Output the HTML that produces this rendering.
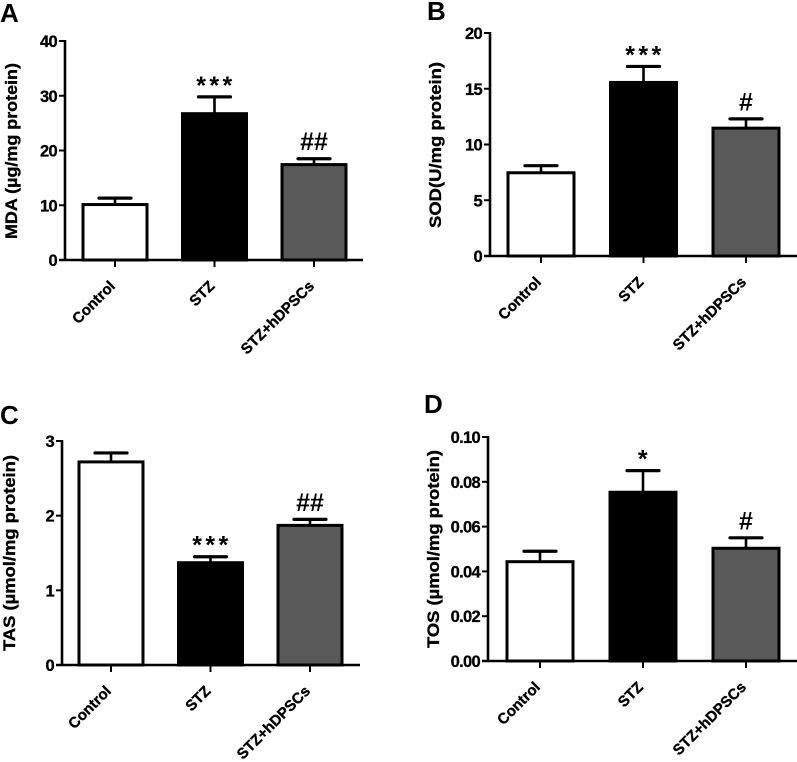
<!DOCTYPE html>
<html>
<head>
<meta charset="utf-8">
<title>Oxidative stress markers</title>
<style>
html,body{margin:0;padding:0;background:#fff;width:797px;height:762px;overflow:hidden}
svg{display:block}
text{font-family:"Liberation Sans",sans-serif;fill:#000}
</style>
</head>
<body>
<svg id="figure" xmlns="http://www.w3.org/2000/svg" width="797" height="762" viewBox="0 0 797 762"></svg>
<script>
var categories = ['Control', 'STZ', 'STZ+hDPSCs'];

var ticksA = [0, 10, 20, 30, 40];
var tickLabelsA = ['0', '10', '20', '30', '40'];
var valuesA = [10.4, 27, 17.7];
var errorsA = [0.9, 2.8, 0.8];
var notesA = ['', '***', '##'];

var ticksB = [0, 5, 10, 15, 20];
var tickLabelsB = ['0', '5', '10', '15', '20'];
var valuesB = [7.6, 15.7, 11.6];
var errorsB = [0.5, 1.3, 0.7];
var notesB = ['', '***', '#'];

var ticksC = [0, 1, 2, 3];
var tickLabelsC = ['0', '1', '2', '3'];
var valuesC = [2.74, 1.39, 1.89];
var errorsC = [0.1, 0.06, 0.06];
var notesC = ['', '***', '##'];

var ticksD = [0, 0.02, 0.04, 0.06, 0.08, 0.1];
var tickLabelsD = ['0.00', '0.02', '0.04', '0.06', '0.08', '0.10'];
var valuesD = [0.045, 0.076, 0.051];
var errorsD = [0.004, 0.009, 0.004];
var notesD = ['', '*', '#'];

var barFills = ['#ffffff', '#000000', '#595959'];
var svgNS = 'http://www.w3.org/2000/svg';
var figure = document.getElementById('figure');

function make(tag, attrs, parent, content) {
  var node = document.createElementNS(svgNS, tag);
  for (var key in attrs) {
    node.setAttribute(key, attrs[key]);
  }
  if (content !== undefined) {
    node.textContent = content;
  }
  parent.appendChild(node);
  return node;
}

function drawPanel(p, ticks, tickLabels, values, errors, notes) {
  var maxTick = ticks[ticks.length - 1];
  function yScale(v) {
    return p.bottom - (v / maxTick) * (p.bottom - p.top);
  }
  function xScale(i) {
    return p.firstCenter + i * p.step;
  }

  var panel = make('g', {}, figure);
  
  

  var letter = make('text', {x: p.letterX, y: p.letterY, 'font-size': 26, 'font-weight': 'bold'}, panel, p.letter);
  
  

  var title = make('text', {
    transform: 'translate(' + p.titleX + ',' + p.titleY + ') rotate(-90)',
    'text-anchor': 'middle',
    'font-size': 16.5,
    'font-weight': 'bold',
    stroke: '#000',
    'stroke-width': 0.35,
    textLength: p.titleLength,
    lengthAdjust: 'spacingAndGlyphs'
  }, panel, p.title);
  
  

  values.forEach(function (value, i) {
    var cx = xScale(i);
    var yVal = yScale(value);
    var yErr = yScale(value + errors[i]);

    var stem = make('line', {x1: cx, x2: cx, y1: yVal + 1, y2: yErr, stroke: '#000', 'stroke-width': 2.6}, panel);
    
    

    var cap = make('line', {x1: cx - 16, x2: cx + 16, y1: yErr, y2: yErr, stroke: '#000', 'stroke-width': 3.2, 'stroke-linecap': 'round'}, panel);
    
    

    var bar = make('rect', {
      x: cx - p.barWidth / 2 + 1.5,
      y: yVal + 1.5,
      width: p.barWidth - 3,
      height: p.bottom - yVal - 1.5,
      fill: barFills[i],
      stroke: '#000',
      'stroke-width': 3
    }, panel);
    
    

    if (notes[i]) {
      var isStar = notes[i].charAt(0) === '*';
      var note = make('text', {
        x: cx + (isStar ? 1.5 : 0),
        y: yErr - (isStar ? 3 : 8.5),
        'text-anchor': 'middle',
        'font-size': isStar ? 25 : 25,
        'font-weight': 'bold',
        'letter-spacing': isStar ? 3.4 : 0
      }, panel, notes[i]);
      
      
    }

    var xTick = make('line', {x1: cx, x2: cx, y1: p.bottom, y2: p.bottom + 7, stroke: '#000', 'stroke-width': 2}, panel);
    
    

    var xLabel = make('text', {
      transform: 'translate(' + (cx + 1) + ',' + (p.bottom + 27) + ') rotate(-45)',
      'text-anchor': 'end',
      'font-size': 15,
      'font-weight': 'bold',
      stroke: '#000',
      'stroke-width': 0.35
    }, panel, categories[i]);
    
    
  });

  var yAxis = make('line', {x1: p.axisX, x2: p.axisX, y1: p.top - 1, y2: p.bottom + 1, stroke: '#000', 'stroke-width': 2.6}, panel);
  
  

  var xAxis = make('line', {x1: p.axisX - 6, x2: p.axisEnd, y1: p.bottom, y2: p.bottom, stroke: '#000', 'stroke-width': 2.4}, panel);
  
  

  ticks.forEach(function (tick, i) {
    var y = yScale(tick);

    var yTick = make('line', {x1: p.axisX - 6, x2: p.axisX, y1: y, y2: y, stroke: '#000', 'stroke-width': 2}, panel);
    
    

    var yLabel = make('text', {
      x: p.axisX - 8,
      y: y + 6,
      'text-anchor': 'end',
      'font-size': 16.5,
      'font-weight': 'bold',
      'letter-spacing': -0.7,
      stroke: '#000',
      'stroke-width': 0.3
    }, panel, tickLabels[i]);
    
    
  });
}

drawPanel({id: 'a', letter: 'A', letterX: 0, letterY: 22, title: 'MDA (\u00b5g/mg protein)', titleX: 17, titleY: 151, titleLength: 176,
  axisX: 65, axisEnd: 363, top: 41, bottom: 260, firstCenter: 115, step: 99.5, barWidth: 67}, ticksA, tickLabelsA, valuesA, errorsA, notesA);

drawPanel({id: 'b', letter: 'B', letterX: 427, letterY: 20, title: 'SOD(U/mg protein)', titleX: 441, titleY: 145, titleLength: 166,
  axisX: 490, axisEnd: 797, top: 33, bottom: 256, firstCenter: 541, step: 102.5, barWidth: 69}, ticksB, tickLabelsB, valuesB, errorsB, notesB);

drawPanel({id: 'c', letter: 'C', letterX: 0, letterY: 424, title: 'TAS (\u00b5mol/mg protein)', titleX: 15, titleY: 553, titleLength: 196,
  axisX: 62, axisEnd: 360, top: 441, bottom: 665, firstCenter: 111, step: 99.5, barWidth: 67}, ticksC, tickLabelsC, valuesC, errorsC, notesC);

drawPanel({id: 'd', letter: 'D', letterX: 424, letterY: 413, title: 'TOS (\u00b5mol/mg protein)', titleX: 439, titleY: 549, titleLength: 198,
  axisX: 488, axisEnd: 797, top: 437, bottom: 661, firstCenter: 540, step: 103, barWidth: 69}, ticksD, tickLabelsD, valuesD, errorsD, notesD);
</script>
</body>
</html>
